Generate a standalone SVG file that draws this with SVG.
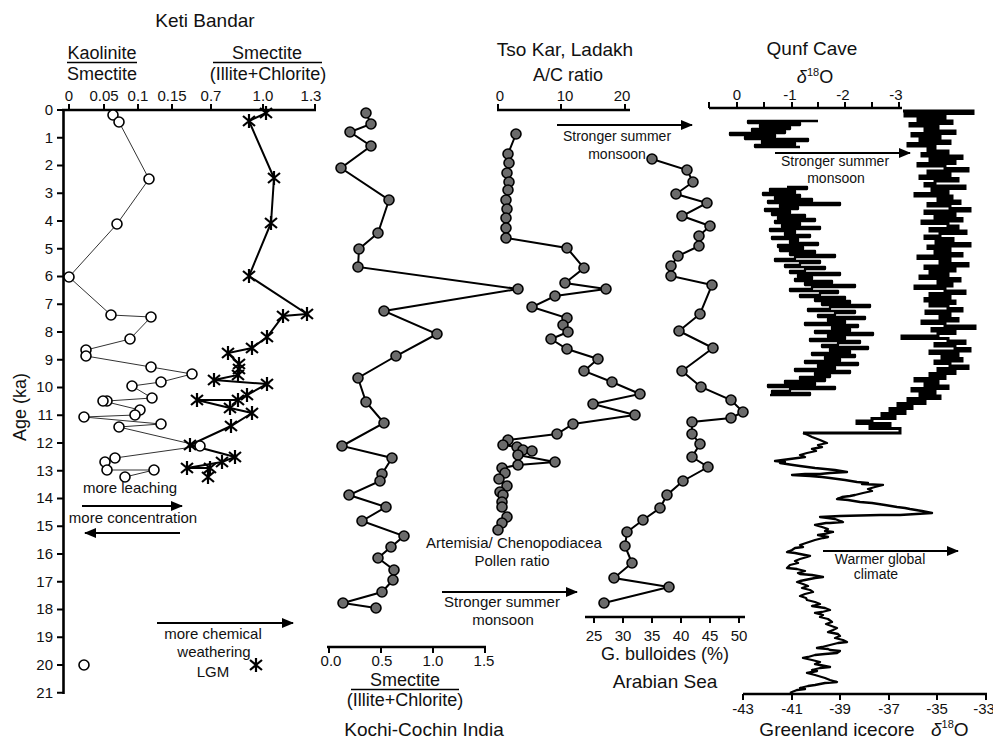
<svg xmlns="http://www.w3.org/2000/svg" xmlns:xlink="http://www.w3.org/1999/xlink" width="993" height="740" viewBox="0 0 993 740">
<style>
text{font-family:"Liberation Sans",Arial,sans-serif;fill:#111}
.tk{font-size:15px;text-anchor:middle}
.yl{font-size:15px;text-anchor:end}
.lb{font-size:15px;text-anchor:middle}
.sm{font-size:14px;text-anchor:middle}
.ttl{font-size:19px;text-anchor:middle}
.sub{font-size:18px;text-anchor:middle}
.ax{stroke:#000;stroke-width:2.6;fill:none}
.tm{stroke:#000;stroke-width:2;fill:none}
.fr{stroke:#000;stroke-width:1.6}
.arr{stroke:#000;stroke-width:2.2;fill:none;marker-end:url(#ah)}
.gd{fill:#6b6b6b;stroke:#000;stroke-width:1.6}
.oc{fill:#fff;stroke:#000;stroke-width:1.6}
.thin{stroke:#333;stroke-width:1;fill:none}
.thick{stroke:#000;stroke-width:2;fill:none}
.curve{stroke:#000;stroke-width:2.3;fill:none;stroke-linejoin:round}
.dense{stroke:#000;stroke-width:3;fill:none;stroke-linejoin:miter}
</style>
<defs>
<marker id="ah" viewBox="0 0 12 10" refX="11" refY="5" markerWidth="12" markerHeight="10" markerUnits="userSpaceOnUse" orient="auto"><path d="M0,0L12,5L0,10z" fill="#000"/></marker>
<path id="ast" d="M-6,-5L6,5M-6,5L6,-5M0,-7V7" stroke="#000" stroke-width="2.2" fill="none"/>
</defs>

<!-- Age axis -->
<g id="age-axis">
<path class="ax" d="M63.5,110V694"/>
<path class="tm" d="M57,110H63M57,137.7H63M57,165.5H63M57,193.2H63M57,221H63M57,248.7H63M57,276.5H63M57,304.2H63M57,332H63M57,359.7H63M57,387.5H63M57,415.2H63M57,443H63M57,470.7H63M57,498.5H63M57,526.2H63M57,554H63M57,581.7H63M57,609.5H63M57,637.2H63M57,665H63M57,692.7H63"/>
<text class="yl" x="53" y="115">0</text>
<text class="yl" x="53" y="143">1</text>
<text class="yl" x="53" y="170">2</text>
<text class="yl" x="53" y="198">3</text>
<text class="yl" x="53" y="226">4</text>
<text class="yl" x="53" y="254">5</text>
<text class="yl" x="53" y="281">6</text>
<text class="yl" x="53" y="309">7</text>
<text class="yl" x="53" y="337">8</text>
<text class="yl" x="53" y="365">9</text>
<text class="yl" x="53" y="392">10</text>
<text class="yl" x="53" y="420">11</text>
<text class="yl" x="53" y="448">12</text>
<text class="yl" x="53" y="476">13</text>
<text class="yl" x="53" y="503">14</text>
<text class="yl" x="53" y="531">15</text>
<text class="yl" x="53" y="559">16</text>
<text class="yl" x="53" y="587">17</text>
<text class="yl" x="53" y="614">18</text>
<text class="yl" x="53" y="642">19</text>
<text class="yl" x="53" y="670">20</text>
<text class="yl" x="53" y="698">21</text>
<text class="sub" transform="translate(26,407) rotate(-90)">Age (ka)</text>
</g>

<!-- Keti Bandar -->
<g id="keti-bandar">
<text class="ttl" x="205" y="27">Keti Bandar</text>
<text class="sub" x="102" y="59">Kaolinite</text>
<path class="fr" d="M67,62.5H137"/>
<text class="sub" x="102" y="80">Smectite</text>
<text class="sub" x="267" y="59">Smectite</text>
<path class="fr" d="M213,62.5H322"/>
<text class="sub" x="268" y="80">(Illite+Chlorite)</text>
<path class="ax" d="M62,110H316"/>
<path class="tm" d="M69,110V104M104,110V104M138,110V104M172,110V104M211,110V104M263,110V104M315,110V104"/>
<text class="tk" x="69" y="101">0</text>
<text class="tk" x="104" y="101">0.05</text>
<text class="tk" x="138" y="101">0.1</text>
<text class="tk" x="172" y="101">0.15</text>
<text class="tk" x="211" y="101">0.7</text>
<text class="tk" x="263" y="101">1.0</text>
<text class="tk" x="311" y="101">1.3</text>
<polyline class="thin" points="113,115 119,122 149,179 117,224 69,277 111,315 151,317 130,339 86,350 86,356 151,367 192,374 161,382 132,386 152,398 107,401 103,401 140,410 135,415 84,417 161,424 119,427 200,446 115,458 105,462 107,470 154,470 125,477"/>
<polyline class="thick" points="266,113 249,121 274,178 271,223 249,276 307,314 283,316 267,337 252,348 228,353 239,364 239,369 238,375 214,380 267,384 247,395 238,400 197,400 230,408 252,413 231,426 190,445 235,457 222,462 187,468 210,468 208,477"/>
<g>
<circle class="oc" cx="113" cy="115" r="5"/><circle class="oc" cx="119" cy="122" r="5"/><circle class="oc" cx="149" cy="179" r="5"/><circle class="oc" cx="117" cy="224" r="5"/><circle class="oc" cx="69" cy="277" r="5"/><circle class="oc" cx="111" cy="315" r="5"/><circle class="oc" cx="151" cy="317" r="5"/><circle class="oc" cx="130" cy="339" r="5"/><circle class="oc" cx="86" cy="350" r="5"/><circle class="oc" cx="86" cy="356" r="5"/><circle class="oc" cx="151" cy="367" r="5"/><circle class="oc" cx="192" cy="374" r="5"/><circle class="oc" cx="161" cy="382" r="5"/><circle class="oc" cx="132" cy="386" r="5"/><circle class="oc" cx="152" cy="398" r="5"/><circle class="oc" cx="107" cy="401" r="5"/><circle class="oc" cx="103" cy="401" r="5"/><circle class="oc" cx="140" cy="410" r="5"/><circle class="oc" cx="135" cy="415" r="5"/><circle class="oc" cx="84" cy="417" r="5"/><circle class="oc" cx="161" cy="424" r="5"/><circle class="oc" cx="119" cy="427" r="5"/><circle class="oc" cx="200" cy="446" r="5"/><circle class="oc" cx="115" cy="458" r="5"/><circle class="oc" cx="105" cy="462" r="5"/><circle class="oc" cx="107" cy="470" r="5"/><circle class="oc" cx="154" cy="470" r="5"/><circle class="oc" cx="125" cy="477" r="5"/>
<circle class="oc" cx="84" cy="665" r="5"/>
</g>
<g>
<use href="#ast" x="266" y="113"/><use href="#ast" x="249" y="121"/><use href="#ast" x="274" y="178"/><use href="#ast" x="271" y="223"/><use href="#ast" x="249" y="276"/><use href="#ast" x="307" y="314"/><use href="#ast" x="283" y="316"/><use href="#ast" x="267" y="337"/><use href="#ast" x="252" y="348"/><use href="#ast" x="228" y="353"/><use href="#ast" x="239" y="364"/><use href="#ast" x="239" y="369"/><use href="#ast" x="238" y="375"/><use href="#ast" x="214" y="380"/><use href="#ast" x="267" y="384"/><use href="#ast" x="247" y="395"/><use href="#ast" x="238" y="400"/><use href="#ast" x="197" y="400"/><use href="#ast" x="230" y="408"/><use href="#ast" x="252" y="413"/><use href="#ast" x="231" y="426"/><use href="#ast" x="190" y="445"/><use href="#ast" x="235" y="457"/><use href="#ast" x="222" y="462"/><use href="#ast" x="187" y="468"/><use href="#ast" x="210" y="468"/><use href="#ast" x="208" y="477"/>
<use href="#ast" x="256" y="665"/>
</g>
<text class="lb" x="130" y="493">more leaching</text>
<text class="lb" x="133" y="523">more concentration</text>
<text class="lb" x="213" y="639">more chemical</text>
<text class="lb" x="214" y="657">weathering</text>
<text class="lb" x="213" y="677">LGM</text>
</g>

<!-- Kochi-Cochin -->
<g id="kochi-cochin">
<polyline class="thick" points="366,113 371,124 350,132 371,146 341,168 389,200 378,233 359,249 358,267 518,289 384,311 437,334 396,356 358,378 366,402 384,423 342,446 392,458 382,474 380,481 349,495 386,507 362,521 404,536 391,547 378,558 394,570 393,580 382,592 343,603 376,608"/>
<g>
<circle class="gd" cx="366" cy="113" r="5"/><circle class="gd" cx="371" cy="124" r="5"/><circle class="gd" cx="350" cy="132" r="5"/><circle class="gd" cx="371" cy="146" r="5"/><circle class="gd" cx="341" cy="168" r="5"/><circle class="gd" cx="389" cy="200" r="5"/><circle class="gd" cx="378" cy="233" r="5"/><circle class="gd" cx="359" cy="249" r="5"/><circle class="gd" cx="358" cy="267" r="5"/><circle class="gd" cx="518" cy="289" r="5"/><circle class="gd" cx="384" cy="311" r="5"/><circle class="gd" cx="437" cy="334" r="5"/><circle class="gd" cx="396" cy="356" r="5"/><circle class="gd" cx="358" cy="378" r="5"/><circle class="gd" cx="366" cy="402" r="5"/><circle class="gd" cx="384" cy="423" r="5"/><circle class="gd" cx="342" cy="446" r="5"/><circle class="gd" cx="392" cy="458" r="5"/><circle class="gd" cx="382" cy="474" r="5"/><circle class="gd" cx="380" cy="481" r="5"/><circle class="gd" cx="349" cy="495" r="5"/><circle class="gd" cx="386" cy="507" r="5"/><circle class="gd" cx="362" cy="521" r="5"/><circle class="gd" cx="404" cy="536" r="5"/><circle class="gd" cx="391" cy="547" r="5"/><circle class="gd" cx="378" cy="558" r="5"/><circle class="gd" cx="394" cy="570" r="5"/><circle class="gd" cx="393" cy="580" r="5"/><circle class="gd" cx="382" cy="592" r="5"/><circle class="gd" cx="343" cy="603" r="5"/><circle class="gd" cx="376" cy="608" r="5"/>
</g>
<path class="ax" d="M327,647H486"/>
<path class="tm" d="M329,647V653M381,647V653M433,647V653M485,647V653"/>
<text class="tk" x="331" y="666">0.0</text>
<text class="tk" x="382" y="666">0.5</text>
<text class="tk" x="433" y="666">1.0</text>
<text class="tk" x="484" y="666">1.5</text>
<text class="sub" x="405" y="686">Smectite</text>
<path class="fr" d="M351,689.5H459"/>
<text class="sub" x="405" y="706">(Illite+Chlorite)</text>
<text class="ttl" x="424" y="736">Kochi-Cochin India</text>
</g>

<!-- Tso Kar -->
<g id="tso-kar">
<text class="ttl" x="565" y="56">Tso Kar, Ladakh</text>
<text class="sub" x="568" y="81">A/C ratio</text>
<path class="ax" d="M497,110H630"/>
<path class="tm" d="M498,110V104M561,110V104M625,110V104"/>
<text class="tk" x="500" y="101">0</text>
<text class="tk" x="565" y="101">10</text>
<text class="tk" x="622" y="101">20</text>
<polyline class="thick" points="516,134 508,154 509,163 507,173 509,182 508,190 506,200 507,209 506,218 506,228 506,238 567,248 584,268 565,283 606,289 555,296 532,307 567,318 563,325 568,332 551,339 567,349 598,359 584,371 612,382 640,394 593,404 635,415 573,424 557,434 508,440 503,445 517,447 523,450 532,451 518,455 555,462 518,465 502,468 505,473 499,479 507,486 500,492 503,495 502,502 502,507 507,517 502,523 498,530"/>
<g>
<circle class="gd" cx="516" cy="134" r="5"/><circle class="gd" cx="508" cy="154" r="5"/><circle class="gd" cx="509" cy="163" r="5"/><circle class="gd" cx="507" cy="173" r="5"/><circle class="gd" cx="509" cy="182" r="5"/><circle class="gd" cx="508" cy="190" r="5"/><circle class="gd" cx="506" cy="200" r="5"/><circle class="gd" cx="507" cy="209" r="5"/><circle class="gd" cx="506" cy="218" r="5"/><circle class="gd" cx="506" cy="228" r="5"/><circle class="gd" cx="506" cy="238" r="5"/><circle class="gd" cx="567" cy="248" r="5"/><circle class="gd" cx="584" cy="268" r="5"/><circle class="gd" cx="565" cy="283" r="5"/><circle class="gd" cx="606" cy="289" r="5"/><circle class="gd" cx="555" cy="296" r="5"/><circle class="gd" cx="532" cy="307" r="5"/><circle class="gd" cx="567" cy="318" r="5"/><circle class="gd" cx="563" cy="325" r="5"/><circle class="gd" cx="568" cy="332" r="5"/><circle class="gd" cx="551" cy="339" r="5"/><circle class="gd" cx="567" cy="349" r="5"/><circle class="gd" cx="598" cy="359" r="5"/><circle class="gd" cx="584" cy="371" r="5"/><circle class="gd" cx="612" cy="382" r="5"/><circle class="gd" cx="640" cy="394" r="5"/><circle class="gd" cx="593" cy="404" r="5"/><circle class="gd" cx="635" cy="415" r="5"/><circle class="gd" cx="573" cy="424" r="5"/><circle class="gd" cx="557" cy="434" r="5"/><circle class="gd" cx="508" cy="440" r="5"/><circle class="gd" cx="503" cy="445" r="5"/><circle class="gd" cx="517" cy="447" r="5"/><circle class="gd" cx="523" cy="450" r="5"/><circle class="gd" cx="532" cy="451" r="5"/><circle class="gd" cx="518" cy="455" r="5"/><circle class="gd" cx="555" cy="462" r="5"/><circle class="gd" cx="518" cy="465" r="5"/><circle class="gd" cx="502" cy="468" r="5"/><circle class="gd" cx="505" cy="473" r="5"/><circle class="gd" cx="499" cy="479" r="5"/><circle class="gd" cx="507" cy="486" r="5"/><circle class="gd" cx="500" cy="492" r="5"/><circle class="gd" cx="503" cy="495" r="5"/><circle class="gd" cx="502" cy="502" r="5"/><circle class="gd" cx="502" cy="507" r="5"/><circle class="gd" cx="507" cy="517" r="5"/><circle class="gd" cx="502" cy="523" r="5"/><circle class="gd" cx="498" cy="530" r="5"/>
</g>
<text class="lb" x="514" y="548">Artemisia/ Chenopodiacea</text>
<text class="lb" x="512" y="566">Pollen ratio</text>
<text class="lb" x="502" y="607">Stronger summer</text>
<text class="lb" x="503" y="625">monsoon</text>
<text class="sm" x="617" y="141">Stronger summer</text>
<text class="sm" x="617" y="159">monsoon</text>
</g>

<!-- Arabian Sea -->
<g id="arabian-sea">
<polyline class="thick" points="652,159 687,170 693,182 676,194 707,203 682,216 710,226 699,236 699,246 678,256 671,266 671,276 712,285 700,314 679,331 713,348 682,371 701,387 731,400 743,412 731,418 692,422 692,434 700,444 692,457 708,467 683,481 667,495 660,508 643,520 627,532 625,546 632,563 614,578 669,587 604,603"/>
<g>
<circle class="gd" cx="652" cy="159" r="5"/><circle class="gd" cx="687" cy="170" r="5"/><circle class="gd" cx="693" cy="182" r="5"/><circle class="gd" cx="676" cy="194" r="5"/><circle class="gd" cx="707" cy="203" r="5"/><circle class="gd" cx="682" cy="216" r="5"/><circle class="gd" cx="710" cy="226" r="5"/><circle class="gd" cx="699" cy="236" r="5"/><circle class="gd" cx="699" cy="246" r="5"/><circle class="gd" cx="678" cy="256" r="5"/><circle class="gd" cx="671" cy="266" r="5"/><circle class="gd" cx="671" cy="276" r="5"/><circle class="gd" cx="712" cy="285" r="5"/><circle class="gd" cx="700" cy="314" r="5"/><circle class="gd" cx="679" cy="331" r="5"/><circle class="gd" cx="713" cy="348" r="5"/><circle class="gd" cx="682" cy="371" r="5"/><circle class="gd" cx="701" cy="387" r="5"/><circle class="gd" cx="731" cy="400" r="5"/><circle class="gd" cx="743" cy="412" r="5"/><circle class="gd" cx="731" cy="418" r="5"/><circle class="gd" cx="692" cy="422" r="5"/><circle class="gd" cx="692" cy="434" r="5"/><circle class="gd" cx="700" cy="444" r="5"/><circle class="gd" cx="692" cy="457" r="5"/><circle class="gd" cx="708" cy="467" r="5"/><circle class="gd" cx="683" cy="481" r="5"/><circle class="gd" cx="667" cy="495" r="5"/><circle class="gd" cx="660" cy="508" r="5"/><circle class="gd" cx="643" cy="520" r="5"/><circle class="gd" cx="627" cy="532" r="5"/><circle class="gd" cx="625" cy="546" r="5"/><circle class="gd" cx="632" cy="563" r="5"/><circle class="gd" cx="614" cy="578" r="5"/><circle class="gd" cx="669" cy="587" r="5"/><circle class="gd" cx="604" cy="603" r="5"/>
</g>
<path class="ax" d="M585,617H745"/>
<path class="tm" d="M594,617V623M623,617V623M652,617V623M681,617V623M710,617V623M739,617V623"/>
<text class="tk" x="594" y="641">25</text>
<text class="tk" x="623" y="641">30</text>
<text class="tk" x="652" y="641">35</text>
<text class="tk" x="681" y="641">40</text>
<text class="tk" x="710" y="641">45</text>
<text class="tk" x="739" y="641">50</text>
<text class="sub" x="665" y="660">G. bulloides (%)</text>
<text class="ttl" x="665" y="688">Arabian Sea</text>
</g>

<!-- Qunf Cave -->
<g id="qunf-cave">
<text class="ttl" x="812" y="55">Qunf Cave</text>
<text class="sub" x="815" y="83"><tspan font-style="italic">δ</tspan><tspan font-size="11" dy="-7">18</tspan><tspan dy="7">O</tspan></text>
<path class="ax" d="M709,108H902"/>
<path class="tm" d="M709,108V102M737,108V102M764,108V102M792,108V102M818,108V102M845,108V102M872,108V102M899,108V102"/>
<text class="tk" x="737" y="100">0</text>
<text class="tk" x="790" y="100">-1</text>
<text class="tk" x="843" y="100">-2</text>
<text class="tk" x="896" y="100">-3</text>
<path class="curve" d="M818,121H748v2H800v2H760v2H790v2H752v2H785v2H730v2H775v2H745v2H808v2H762v2H795v2H755v2H800"/>
<path class="curve" d="M787,187H807v2H770v2H795v2H763v2H800v2H775v2H812v2H768v2H840v2H780v2H798v2H765v2H790v2H772v2H805v2H778v2H815v2H775v2H800v2H782v2H820v2H770v2H795v2H785v2H810v2H772v2H798v2H790v2H818v2H778v2H803v2H780v2H815v2H790v2H835v2H795v2H775v2H820v2H800v2H785v2H825v2H805v2H790v2H840v2H798v2H812v2H795v2H832v2H805v2H855v2H812v2H790v2H838v2H820v2H800v2H845v2H815v2H850v2H822v2H870v2H830v2H808v2H855v2H835v2H818v2H865v2H828v2H845v2H805v2H858v2H832v2H850v2H815v2H873v2H828v2H845v2H810v2H860v2H838v2H822v2H868v2H830v2H850v2H812v2H855v2H825v2H840v2H805v2H858v2H818v2H835v2H795v2H850v2H815v2H830v2H800v2H825v2H785v2H815v2H768v2H835v2H790v2H772v2H810v2H770"/>
<text class="sm" x="835" y="166">Stronger summer</text>
<text class="sm" x="836" y="183">monsoon</text>
</g>

<!-- Greenland icecore -->
<g id="greenland-icecore">
<path class="dense" d="M903,111H973v2.5H905v2.5H945v2.5H918v2.5H952v2.5H910v2.5H938v2.5H925v2.5H955v2.5H912v2.5H940v2.5H920v2.5H950v2.5H908v2.5H935v2.5H928v2.5H948v2.5H922v2.5H962v2.5H930v2.5H955v2.5H918v2.5H945v2.5H968v2.5H928v2.5H950v2.5H920v2.5H958v2.5H935v2.5H925v2.5H965v2.5H932v2.5H948v2.5H915v2.5H952v2.5H938v2.5H960v2.5H928v2.5H950v2.5H970v2.5H925v2.5H955v2.5H935v2.5H962v2.5H922v2.5H948v2.5H958v2.5H930v2.5H966v2.5H940v2.5H925v2.5H953v2.5H936v2.5H970v2.5H928v2.5H950v2.5H935v2.5H962v2.5H918v2.5H950v2.5H940v2.5H968v2.5H925v2.5H955v2.5H930v2.5H948v2.5H920v2.5H960v2.5H938v2.5H952v2.5H915v2.5H945v2.5H965v2.5H930v2.5H950v2.5H925v2.5H955v2.5H930v2.5H948v2.5H962v2.5H926v2.5H950v2.5H940v2.5H958v2.5H922v2.5H945v2.5H975v2.5H932v2.5H955v2.5H938v2.5H902v2.5H948v2.5H965v2.5H935v2.5H955v2.5H970v2.5H930v2.5H958v2.5H942v2.5H962v2.5H935v2.5H950v2.5H968v2.5H938v2.5H955v2.5H930v2.5H945v2.5H915v2.5H938v2.5H925v2.5H948v2.5H912v2.5H935v2.5H920v2.5H940v2.5H908v2.5H925v2.5H898v2.5H912v2.5H890v2.5H905v2.5H882v2.5H895v2.5H872v2.5H857v2.5H890v2.5H870v2.5H900V433H803"/>
<path class="curve" d="M803,433L808,435L812,437L820,440L827,443L818,445L822,447L812,449L816,451L807,453L800,455L805,457L790,459L775,461L785,462L780,463L793,465L800,466L815,468L825,469L835,470L847,472L830,473L820,474L805,474L792,475L810,476L822,477L830,478L845,480L857,482L868,483L862,484L883,485L875,487L868,489L872,491L863,493L855,495L850,496L842,497L837,499L848,500L860,502L872,503L885,505L897,507L905,508L910,509L922,511L932,513L900,515L880,515L840,516L820,517L828,518L835,519L843,522L830,523L826,523L815,525L822,527L828,529L825,531L833,532L825,534L818,535L828,537L823,538L815,540L812,541L806,543L800,545L803,547L795,548L792,550L787,552L795,553L800,554L810,556L807,557L800,559L795,561L798,563L790,565L787,568L797,569L805,571L798,573L800,574L812,575L823,577L815,578L810,579L800,581L797,582L803,584L808,586L802,588L810,590L813,592L805,594L800,596L806,598L807,600L815,602L820,604L812,606L825,608L830,610L822,612L815,613L823,615L820,617L828,619L832,622L826,624L837,628L833,630L828,632L838,634L840,636L835,638L843,640L847,642L838,643L830,645L822,647L817,648L828,649L830,650L840,651L837,653L825,654L815,655L808,657L803,658L812,660L820,662L815,664L830,667L820,668L812,670L817,671L807,673L815,675L825,678L830,680L837,682L825,683L815,685L808,686L800,688L805,689L797,690L792,692L790,693"/>
<path class="ax" d="M743,694H987"/>
<path class="tm" d="M743,694V700M792,694V700M840,694V700M889,694V700M937,694V700M986,694V700"/>
<text class="tk" x="743" y="714">-43</text>
<text class="tk" x="792" y="714">-41</text>
<text class="tk" x="840" y="714">-39</text>
<text class="tk" x="889" y="714">-37</text>
<text class="tk" x="937" y="714">-35</text>
<text class="tk" x="984" y="714">-33</text>
<text class="ttl" x="837" y="736">Greenland icecore</text>
<text class="ttl" x="931" y="736" style="text-anchor:start"><tspan font-style="italic">δ</tspan><tspan font-size="11" dy="-8">18</tspan><tspan dy="8">O</tspan></text>
<text class="sm" x="880" y="564">Warmer global</text>
<text class="sm" x="876" y="579">climate</text>
</g>

<!-- arrows -->
<g id="connectors">
<path class="arr" d="M82,506H182"/>
<path class="arr" d="M180,533H85"/>
<path class="arr" d="M157,623H293"/>
<path class="arr" d="M557,125H692"/>
<path class="arr" d="M775,153H910"/>
<path class="arr" d="M442,592H577"/>
<path class="arr" d="M823,551H958"/>
</g>
</svg>
